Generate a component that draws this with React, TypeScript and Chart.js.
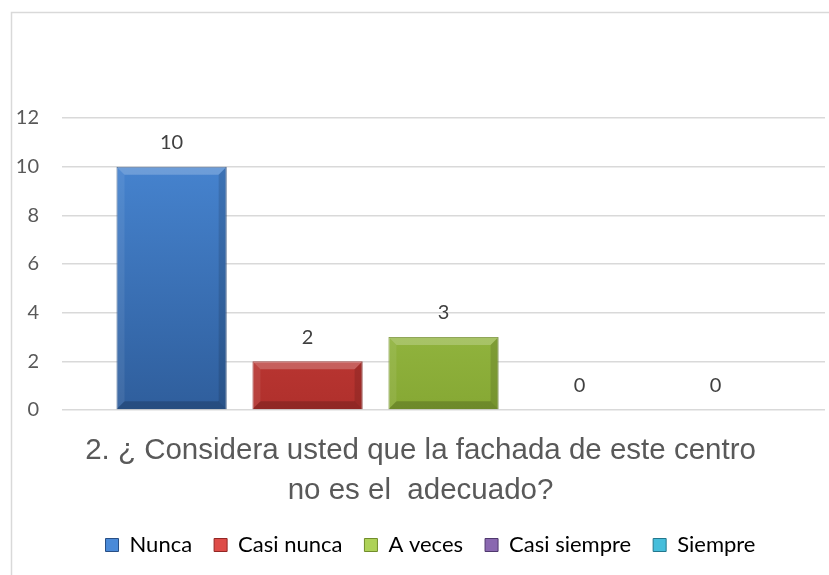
import React, { useEffect, useRef } from "react";
import { Chart, registerables } from "chart.js";

Chart.register(...registerables);

const categories: string[] = [""];
const seriesNames: string[] = ["Nunca", "Casi nunca", "A veces", "Casi siempre", "Siempre"];
const seriesValues: number[] = [10, 2, 3, 0, 0];
const yTicks: number[] = [0, 2, 4, 6, 8, 10, 12];
const titleLines: string[] = ["2. ¿ Considera usted que la fachada de este centro", "no es el  adecuado?"];

const topColors = ["#4a8ad8", "#de4c48", "#aed258", "#8a68b0", "#46bedb"];
const bottomColors = ["#2f5e9c", "#b0302c", "#86a834", "#604484", "#2a8ea8"];
const edgeColors = ["#284f85", "#922724", "#718d2b", "#4f386d", "#23778d"];

const frameAndLabels = {
  id: "frameAndLabels",
  afterLayout(chart: any) {
    if (chart.legend) {
      chart.legend.left += 10;
      chart.legend.right += 10;
      if (chart.legend.adjustHitBoxes) chart.legend.adjustHitBoxes();
    }
  },
  beforeDraw(chart: any) {
    const ctx = chart.ctx;
    ctx.save();
    ctx.strokeStyle = "#d9d9d9";
    ctx.lineWidth = 1.5;
    ctx.strokeRect(11.5, 12.5, 900, 700);
    ctx.restore();
  },
  afterDatasetsDraw(chart: any) {
    const ctx = chart.ctx;
    ctx.save();
    chart.data.datasets.forEach((ds: any, i: number) => {
      const meta = chart.getDatasetMeta(i);
      meta.data.forEach((bar: any, j: number) => {
        const v = ds.data[j];
        const { x, y, base, width } = bar.getProps(["x", "y", "base", "width"], true);
        const h = base - y;
        if (h > 2) {
          const l = x - width / 2;
          const r = x + width / 2;
          const b = Math.min(8, h / 3);
          ctx.fillStyle = "rgba(255,255,255,0.22)";
          ctx.beginPath();
          ctx.moveTo(l, y);
          ctx.lineTo(r, y);
          ctx.lineTo(r - b, y + b);
          ctx.lineTo(l + b, y + b);
          ctx.closePath();
          ctx.fill();
          ctx.fillStyle = "rgba(0,0,0,0.12)";
          ctx.beginPath();
          ctx.moveTo(r, y);
          ctx.lineTo(r, base);
          ctx.lineTo(r - b, base - b);
          ctx.lineTo(r - b, y + b);
          ctx.closePath();
          ctx.fill();
          ctx.fillStyle = "rgba(0,0,0,0.18)";
          ctx.beginPath();
          ctx.moveTo(l, base);
          ctx.lineTo(r, base);
          ctx.lineTo(r - b, base - b);
          ctx.lineTo(l + b, base - b);
          ctx.closePath();
          ctx.fill();
          ctx.fillStyle = "rgba(255,255,255,0.08)";
          ctx.beginPath();
          ctx.moveTo(l, y);
          ctx.lineTo(l + b, y + b);
          ctx.lineTo(l + b, base - b);
          ctx.lineTo(l, base);
          ctx.closePath();
          ctx.fill();
        }
        ctx.fillStyle = "#404040";
        ctx.font = "20px Lato";
        ctx.textAlign = "center";
        ctx.textBaseline = "middle";
        ctx.fillText(String(v), x, y - 24);
      });
    });
    ctx.restore();
  },
};

export default function App() {
  const ref = useRef<HTMLCanvasElement | null>(null);
  useEffect(() => {
    if (!ref.current) return;
    const datasets = seriesNames.map((name, i) => ({
      label: name,
      data: [seriesValues[i]],
      backgroundColor: (c: any) => {
        const area = c.chart.chartArea;
        if (!area) return topColors[i];
        const g = c.chart.ctx.createLinearGradient(0, area.top, 0, area.bottom);
        g.addColorStop(0, topColors[i]);
        g.addColorStop(1, bottomColors[i]);
        return g;
      },
      borderColor: edgeColors[i],
      borderWidth: 1,
      categoryPercentage: 0.891,
      barPercentage: 0.81,
    }));
    const chart = new Chart(ref.current, {
      type: "bar",
      data: { labels: categories, datasets },
      plugins: [frameAndLabels],
      options: {
        animation: false,
        responsive: false,
        layout: { padding: { top: 118, left: 16, right: 4, bottom: 9 } },
        scales: {
          x: { display: false },
          y: {
            min: 0,
            max: 12,
            afterBuildTicks: (axis: any) => {
              axis.ticks = yTicks.map((v) => ({ value: v }));
            },
            afterFit: (axis: any) => {
              axis.width = 46;
            },
            border: { display: false },
            grid: { color: "#d9d9d9", lineWidth: 1.5, drawTicks: false },
            ticks: {
              color: "#595959",
              font: { family: "Lato", size: 20 },
              padding: 23,
            },
          },
        },
        plugins: {
          tooltip: { enabled: false },
          title: {
            display: true,
            position: "bottom",
            weight: 500,
            text: titleLines,
            color: "#595959",
            font: { family: "Liberation Sans", size: 29.5, weight: "normal", lineHeight: "40px" },
            padding: { top: 21, bottom: 1 },
          } as any,
          legend: {
            position: "bottom",
            labels: {
              color: "#595959",
              font: { family: "Lato", size: 22 },
              boxWidth: 13,
              boxHeight: 13,
              padding: 22,
              generateLabels: () =>
                seriesNames.map((n, i) => ({
                  text: n,
                  fillStyle: topColors[i],
                  strokeStyle: edgeColors[i],
                  lineWidth: 1,
                  hidden: false,
                  datasetIndex: i,
                })),
            },
          },
        },
      },
    });
    return () => chart.destroy();
  }, []);
  return (
    <div style={{ position: "fixed", left: 0, top: 0, width: 829, height: 575, background: "#fff" }}>
      <canvas ref={ref} width={829} height={575} style={{ width: 829, height: 575, display: "block" }} />
    </div>
  );
}
